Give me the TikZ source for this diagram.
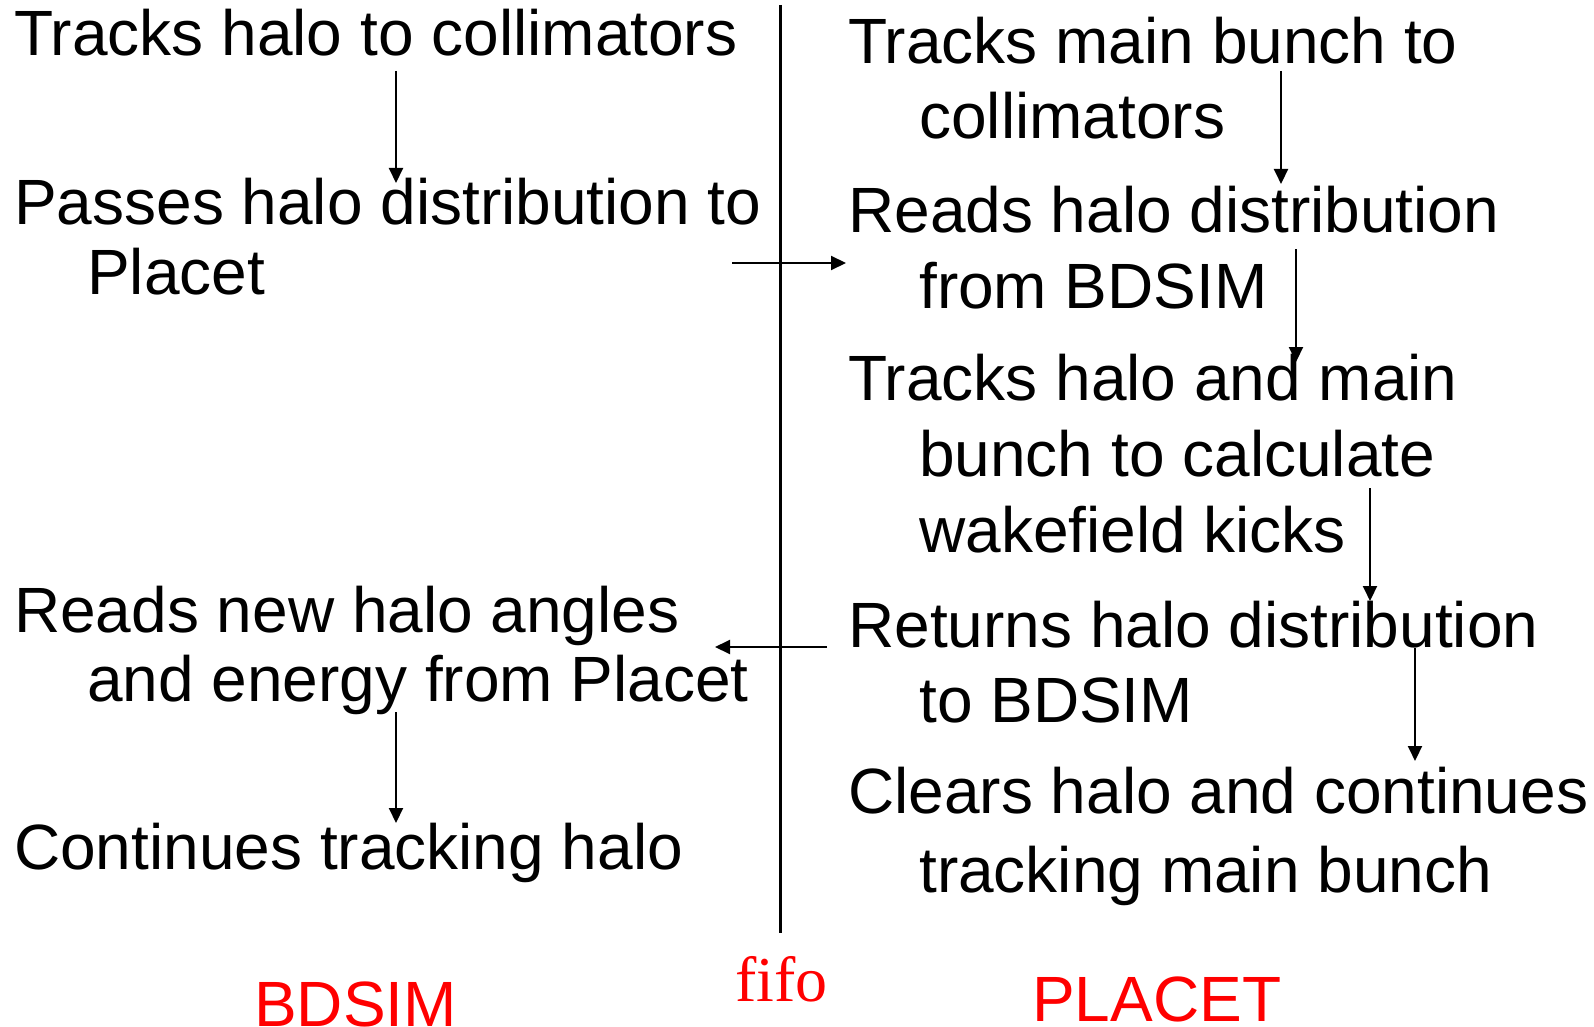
\documentclass[tikz,border=0pt]{standalone}
\usepackage{fontspec}
\setmainfont{Liberation Sans}
\newfontfamily\timesf{Liberation Serif}
\usetikzlibrary{arrows.meta}
\begin{document}
\begin{tikzpicture}[x=1pt,y=-1pt,
  txt/.style={anchor=base west,inner sep=0pt,font=\fontsize{64}{70}\selectfont},
  lbl/.style={anchor=base west,inner sep=0pt,text=red,font=\fontsize{64}{70}\selectfont},
  arr/.style={line width=2pt,-{Triangle[length=15pt,width=14pt]}},
  divider/.style={line width=3pt}
]
\useasboundingbox (0,0) rectangle (1594,1027);
\clip (0,0) rectangle (1594,1027);
% left column (BDSIM)
\node[txt] (l1) at (14,56) {Tracks halo to collimators};
\node[txt] (l2a) at (14,224) {Passes halo distribution to};
\node[txt] (l2b) at (87,294) {Placet};
\node[txt] (l3a) at (14,632) {Reads new halo angles};
\node[txt] (l3b) at (87,701) {and energy from Placet};
\node[txt] (l4) at (14,869) {Continues tracking halo};
% right column (PLACET)
\node[txt] (r1a) at (848,64) {Tracks main bunch to};
\node[txt] (r1b) at (919,139) {collimators};
\node[txt] (r2a) at (848,232) {Reads halo distribution};
\node[txt] (r2b) at (919,308) {from BDSIM};
\node[txt] (r3a) at (848,400) {Tracks halo and main};
\node[txt] (r3b) at (919,476) {bunch to calculate};
\node[txt] (r3c) at (919,552) {wakefield kicks};
\node[txt] (r4a) at (848,647) {Returns halo distribution};
\node[txt] (r4b) at (919,722) {to BDSIM};
\node[txt] (r5a) at (848,813) {Clears halo and continues};
\node[txt] (r5b) at (919,892) {tracking main bunch};
% bottom labels
\node[lbl] (bdsim) at (254,1026) {BDSIM};
\node[lbl,font=\fontsize{64}{70}\timesf] (fifo) at (735,1001) {f\kern0pt ifo};
\node[lbl] (placet) at (1032,1021) {PLACET};
% divider
\coordinate (dtop) at (780,5);
\coordinate (dbot) at (780,933);
\draw[divider] (dtop) -- (dbot);
% arrow end points
\coordinate (a1s) at (396,71);  \coordinate (a1e) at (396,183);
\coordinate (a2s) at (732,263); \coordinate (a2e) at (846,263);
\coordinate (a3s) at (827,647); \coordinate (a3e) at (715,647);
\coordinate (a4s) at (396,712); \coordinate (a4e) at (396,823);
\coordinate (b1s) at (1281,71); \coordinate (b1e) at (1281,184);
\coordinate (b2s) at (1296,249); \coordinate (b2e) at (1296,362);
\coordinate (b3s) at (1370,488); \coordinate (b3e) at (1370,601);
\coordinate (b4s) at (1415,648); \coordinate (b4e) at (1415,761);
\draw[arr] (a1s) -- (a1e);
\draw[arr] (a2s) -- (a2e);
\draw[arr] (a3s) -- (a3e);
\draw[arr] (a4s) -- (a4e);
\draw[arr] (b1s) -- (b1e);
\draw[arr] (b2s) -- (b2e);
\draw[arr] (b3s) -- (b3e);
\draw[arr] (b4s) -- (b4e);
\end{tikzpicture}
\end{document}
